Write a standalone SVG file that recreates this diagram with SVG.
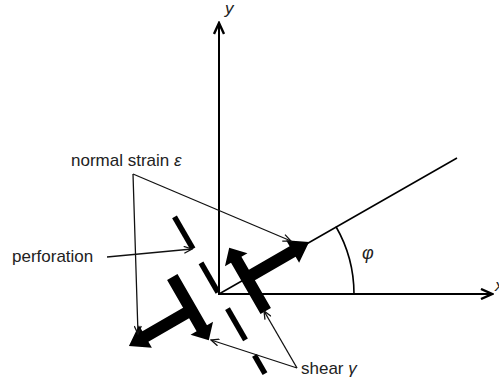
<svg xmlns="http://www.w3.org/2000/svg" width="499" height="381" viewBox="0 0 499 381">
<style>
.lbl{font-family:"Liberation Sans","Open Sans",Arial,sans-serif;font-size:17px;fill:#222}
.it{font-family:"Liberation Sans","Open Sans",Arial,sans-serif;font-style:italic;fill:#222}
.axis{stroke:#000;stroke-width:2;fill:none}
.thin{stroke:#111;stroke-width:1.3;fill:none}
.slit{stroke:#000;stroke-width:5.5;fill:none}
.blk{fill:#000;stroke:none}
</style>
<defs>
<marker id="ah" markerUnits="userSpaceOnUse" markerWidth="14" markerHeight="12" viewBox="-12 -6 14 12" refX="0" refY="0" orient="auto">
<path d="M-11,-5 L0,0 L-11,5" stroke="#000" stroke-width="2.4" fill="none"/>
</marker>
<marker id="th" markerUnits="userSpaceOnUse" markerWidth="10" markerHeight="8" viewBox="-9 -4 10 8" refX="0" refY="0" orient="auto">
<path d="M-8,-3.5 L0,0 L-8,3.5" stroke="#111" stroke-width="1.3" fill="none"/>
</marker>
<g id="tArrow">
<path class="blk" d="M37,-6 L85,-6 L85,-13 L104,0 L85,13 L85,6 L37,6 Z"/>
<path class="blk" d="M26,38 L26,-21 L19,-21 L32,-35 L45,-21 L38,-21 L38,38 Z"/>
</g>
</defs>
<g id="axes">
<line class="axis" x1="219" y1="295" x2="219" y2="23" marker-end="url(#ah)"/>
<line class="axis" x1="218" y1="294" x2="492" y2="294" marker-end="url(#ah)"/>
<text class="it" x="225" y="14" font-size="17">y</text>
<text class="it" x="495" y="291" font-size="17">x</text>
</g>
<g id="direction">
<line x1="219" y1="294" x2="457" y2="158" stroke="#000" stroke-width="1.6"/>
<path d="M354,294 A135,135 0 0 0 335.9,226.5" stroke="#000" stroke-width="1.6" fill="none"/>
<text class="it" x="362" y="259" font-size="18">φ</text>
</g>
<g id="perforation-slits" transform="translate(219,294) rotate(-30)">
<line class="slit" x1="0" y1="-89" x2="0" y2="-52"/>
<line class="slit" x1="0" y1="-36" x2="0" y2="-2"/>
<line class="slit" x1="0" y1="17" x2="0" y2="53"/>
<line class="slit" x1="0" y1="71" x2="0" y2="92"/>
</g>
<g id="strain-arrows" transform="translate(219,294) rotate(-30)">
<use href="#tArrow"/>
<use href="#tArrow" transform="rotate(180)"/>
</g>
<g id="labels">
<text class="lbl" x="71" y="166">normal strain <tspan font-style="italic">ε</tspan></text>
<text class="lbl" x="12" y="262">perforation</text>
<text class="lbl" x="301" y="374">shear <tspan font-style="italic">γ</tspan></text>
</g>
<g id="connectors">
<line class="thin" x1="133" y1="174" x2="291" y2="241" marker-end="url(#th)"/>
<line class="thin" x1="133" y1="174" x2="138" y2="334" marker-end="url(#th)"/>
<line class="thin" x1="107" y1="257" x2="192" y2="249" marker-end="url(#th)"/>
<line class="thin" x1="297" y1="368" x2="211" y2="340" marker-end="url(#th)"/>
<line class="thin" x1="297" y1="368" x2="264" y2="311" marker-end="url(#th)"/>
</g>
</svg>
